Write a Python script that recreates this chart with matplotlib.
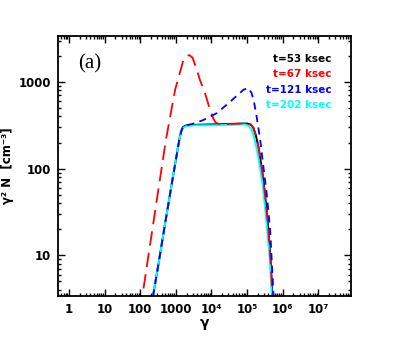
import matplotlib
matplotlib.use("Agg")
import matplotlib.pyplot as plt
import numpy as np
from matplotlib.ticker import LogLocator, NullFormatter

# curves (log10 gamma, log10 gamma^2 N)
lg_53 = [2.30, 2.36, 2.50, 2.70, 2.90, 3.00, 3.10, 3.15, 3.20, 3.30, 3.50, 4.00, 4.50,
         4.90, 5.00, 5.10, 5.18, 5.25, 5.32, 5.39, 5.46, 5.53, 5.60, 5.66, 5.71, 5.73]
ly_53 = [0.38, 0.53, 0.87, 1.37, 1.86, 2.10, 2.34, 2.43, 2.48, 2.50, 2.505, 2.51, 2.515,
         2.52, 2.52, 2.51, 2.47, 2.38, 2.25, 2.07, 1.87, 1.60, 1.29, 0.95, 0.56, 0.30]

lg_67 = [2.00, 2.06, 2.40, 2.72, 2.98, 3.21, 3.30, 3.38, 3.47, 3.59, 3.68, 3.82, 3.96,
         4.05, 4.12, 4.25, 4.50, 4.90, 5.00, 5.10, 5.18, 5.25, 5.32, 5.39, 5.46, 5.53,
         5.60, 5.66, 5.71, 5.73]
ly_67 = [0.37, 0.53, 1.46, 2.33, 2.91, 3.25, 3.30, 3.31, 3.28, 3.14, 3.02, 2.87, 2.68,
         2.58, 2.53, 2.51, 2.515, 2.52, 2.52, 2.51, 2.47, 2.38, 2.25, 2.07, 1.87, 1.60,
         1.29, 0.95, 0.56, 0.30]

lg_121 = [2.30, 2.36, 2.50, 2.70, 2.90, 3.00, 3.10, 3.15, 3.20, 3.30, 3.50, 3.77, 4.15,
          4.52, 4.90, 5.04, 5.13, 5.20, 5.27, 5.37, 5.46, 5.55, 5.65, 5.74, 5.76]
ly_121 = [0.38, 0.53, 0.87, 1.37, 1.86, 2.10, 2.34, 2.43, 2.48, 2.50, 2.52, 2.56, 2.64,
          2.77, 2.91, 2.93, 2.87, 2.76, 2.60, 2.33, 2.02, 1.72, 1.29, 0.57, 0.30]

lg_202 = [2.30, 2.36, 2.50, 2.70, 2.90, 3.00, 3.10, 3.15, 3.20, 3.30, 3.50, 4.00, 4.50,
          4.95, 5.05, 5.13, 5.20, 5.27, 5.35, 5.43, 5.50, 5.57, 5.64, 5.70, 5.72]
ly_202 = [0.38, 0.53, 0.87, 1.37, 1.86, 2.10, 2.34, 2.42, 2.47, 2.49, 2.50, 2.50, 2.505,
          2.51, 2.49, 2.45, 2.36, 2.23, 2.05, 1.84, 1.58, 1.28, 0.93, 0.50, 0.30]

labels = ["t=53 ksec", "t=67 ksec", "t=121 ksec", "t=202 ksec"]
colors = ["black", "red", "blue", "cyan"]

xticks = [1, 10, 100, 1000, 1e4, 1e5, 1e6, 1e7]
xticklabels = ["1", "10", "100", "1000", "10\u2074", "10\u2075", "10\u2076", "10\u2077"]
yticks = [10, 100, 1000]
yticklabels = ["10", "100", "1000"]

fig = plt.figure(figsize=(4.07, 3.37), dpi=100)
ax = fig.add_axes([0.1418, 0.1217, 0.72, 0.7724])

def p(l):
    return 10 ** np.array(l)

ax.plot(p(lg_53), p(ly_53), color="black", lw=1.4)
ax.plot(p(lg_202), p(ly_202), color="cyan", lw=1.4)
ax.plot(p(lg_67), p(ly_67), color="red", lw=1.3, dashes=(8, 4))
ax.plot(p(lg_121), p(ly_121), color="blue", lw=1.3, dashes=(4, 3))

ax.set_xscale("log")
ax.set_yscale("log")
ax.set_xlim(0.48, 8.2e7)
ax.set_ylim(3.39, 3420)

ax.set_xticks(xticks)
ax.set_xticklabels(xticklabels)
ax.set_yticks(yticks)
ax.set_yticklabels(yticklabels)
ax.xaxis.set_minor_locator(LogLocator(base=10, subs=np.arange(2, 10), numticks=20))
ax.yaxis.set_minor_locator(LogLocator(base=10, subs=np.arange(2, 10), numticks=20))
ax.xaxis.set_minor_formatter(NullFormatter())
ax.yaxis.set_minor_formatter(NullFormatter())
ax.tick_params(which="both", direction="in", top=True, right=True, width=1)
ax.tick_params(which="major", length=5, labelsize=8.5, pad=5)
ax.tick_params(which="minor", length=2.5)
for t in ax.get_xticklabels() + ax.get_yticklabels():
    t.set_fontweight("bold")
for s in ax.spines.values():
    s.set_linewidth(1.3)

ax.set_xlabel("\u03b3", fontsize=10, fontweight="bold", labelpad=0)
ax.set_ylabel("\u03b3\u00b2 N  [cm\u207b\u00b3]", fontsize=8.5, fontweight="bold", labelpad=3)

ax.text(0.07, 0.89, "(a)", transform=ax.transAxes, fontsize=15,
        family="Liberation Serif", va="center", ha="left")
for i, (lab, c) in enumerate(zip(labels, colors)):
    ax.text(0.935, 0.91 - i * 0.059, lab, transform=ax.transAxes, color=c,
            fontsize=7.5, fontweight="bold", ha="right", va="center")

fig.savefig("out.png", dpi=100)
